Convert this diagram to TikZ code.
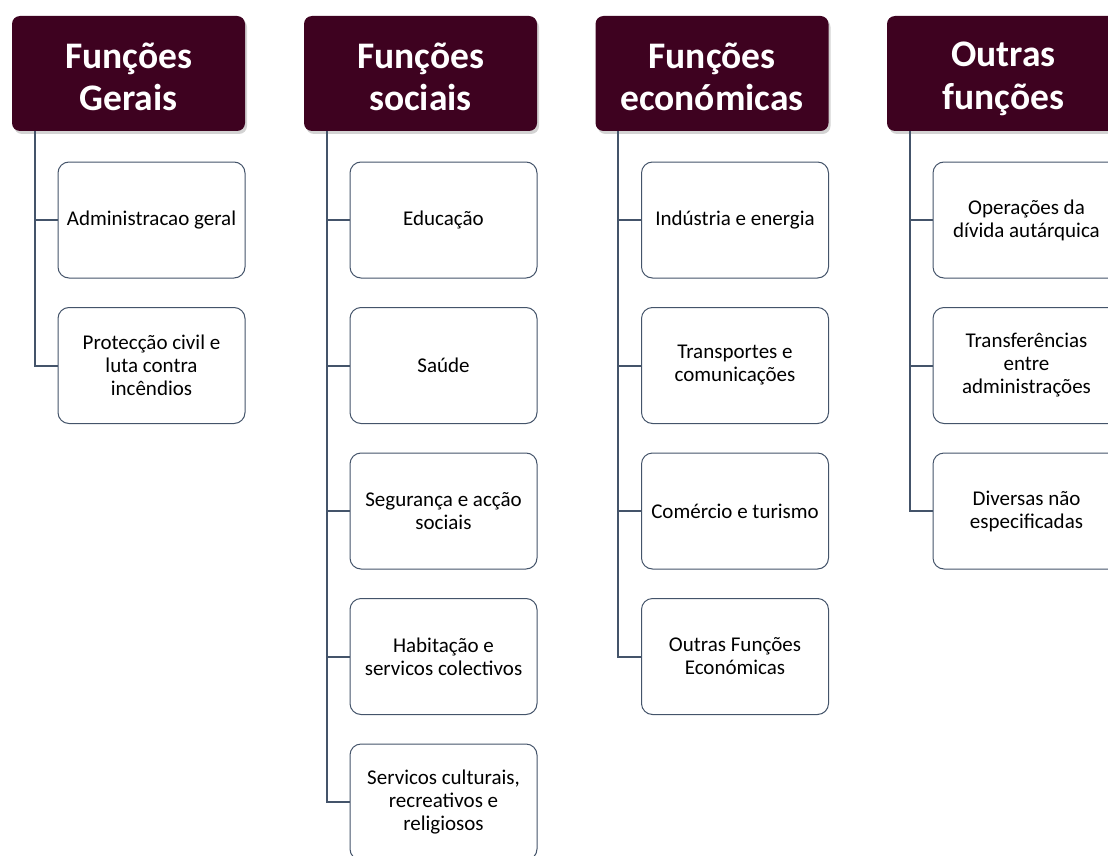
\documentclass[tikz,border=0pt]{standalone}
\usepackage{fontspec}
\setmainfont{Carlito}
\usepackage{tikz}
\usetikzlibrary{positioning, shadows}
\definecolor{headfill}{HTML}{3E0220}
\definecolor{slate}{HTML}{44546A}
\newcommand{\headstrut}{\rule[-4pt]{0pt}{40pt}}

\begin{document}
\begin{tikzpicture}[
  x=1pt, y=-1pt,
  head/.style={draw=none, rounded corners=8pt, fill=headfill, text=white,
               align=center, minimum width=233pt, minimum height=115pt,
               font=\fontsize{37.5}{43}\selectfont\bfseries,
               drop shadow={opacity=0.35, shadow xshift=2pt, shadow yshift=-3pt}},
  item/.style={draw=slate, line width=1pt, rounded corners=11pt, fill=white,
               align=center, minimum width=187pt, minimum height=116pt,
               font=\fontsize{21}{23}\selectfont},
  conn/.style={draw=slate, line width=2pt}
]
\useasboundingbox (0,0) rectangle (1108,856);
\clip (0,0) rectangle (1108,856);

% Column 1 --- Funções Gerais
\node[head] (H1) at (128.5, 73.5) {Funções\headstrut\\Gerais\headstrut};
\node[item] (C1a) at (151.5, 220) {Administracao geral};
\node[item, below=28.5pt of C1a] (C1b) {Protecção civil e\\luta contra\\incêndios};
\draw[conn] ([xshift=23pt]H1.south west) |- (C1a.west);
\draw[conn] ([xshift=23pt]H1.south west) |- (C1b.west);

% Column 2 --- Funções sociais
\node[head] (H2) at (420.5, 73.5) {Funções\headstrut\\sociais\headstrut};
\node[item] (C2a) at (443.5, 220) {Educação};
\node[item, below=28.5pt of C2a] (C2b) {Saúde};
\node[item, below=28.5pt of C2b] (C2c) {Segurança e acção\\sociais};
\node[item, below=28.5pt of C2c] (C2d) {Habitação e\\servicos colectivos};
\node[item, below=28.5pt of C2d] (C2e) {Servicos culturais,\\recreativos e\\religiosos};
\draw[conn] ([xshift=23pt]H2.south west) |- (C2a.west);
\draw[conn] ([xshift=23pt]H2.south west) |- (C2b.west);
\draw[conn] ([xshift=23pt]H2.south west) |- (C2c.west);
\draw[conn] ([xshift=23pt]H2.south west) |- (C2d.west);
\draw[conn] ([xshift=23pt]H2.south west) |- (C2e.west);

% Column 3 --- Funções económicas
\node[head] (H3) at (712, 73.5) {Funções\headstrut\\económicas\headstrut};
\node[item] (C3a) at (735, 220) {Indústria e energia};
\node[item, below=28.5pt of C3a] (C3b) {Transportes e\\comunicações};
\node[item, below=28.5pt of C3b] (C3c) {Comércio e turismo};
\node[item, below=28.5pt of C3c] (C3d) {Outras Funções\\Económicas};
\draw[conn] ([xshift=23pt]H3.south west) |- (C3a.west);
\draw[conn] ([xshift=23pt]H3.south west) |- (C3b.west);
\draw[conn] ([xshift=23pt]H3.south west) |- (C3c.west);
\draw[conn] ([xshift=23pt]H3.south west) |- (C3d.west);

% Column 4 --- Outras funções
\node[head] (H4) at (1003.5, 73.5) {Outras\headstrut\\funções\headstrut};
\node[item] (C4a) at (1026.5, 220) {Operações da\\dívida autárquica};
\node[item, below=28.5pt of C4a] (C4b) {Transferências\\entre\\administrações};
\node[item, below=28.5pt of C4b] (C4c) {Diversas não\\especificadas};
\draw[conn] ([xshift=23pt]H4.south west) |- (C4a.west);
\draw[conn] ([xshift=23pt]H4.south west) |- (C4b.west);
\draw[conn] ([xshift=23pt]H4.south west) |- (C4c.west);

\end{tikzpicture}
\end{document}
